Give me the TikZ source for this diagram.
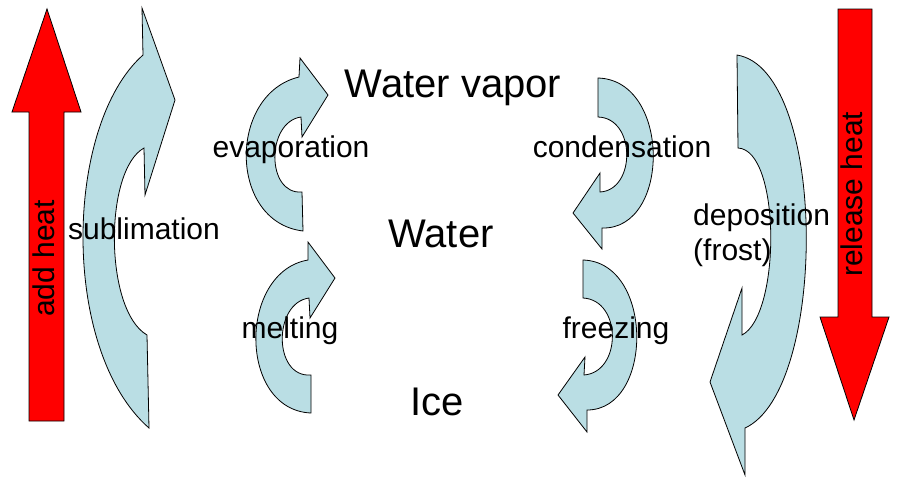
\documentclass[tikz,border=0pt]{standalone}
\usepackage{fontspec}
\setmainfont{Liberation Sans}
\definecolor{phaseblue}{RGB}{186,222,228}
\begin{document}
\begin{tikzpicture}[x=1pt,y=-1pt,
    phasearrow/.style={draw=black,line width=0.8pt,fill=phaseblue},
    heatarrow/.style={draw=black,line width=0.8pt,fill=red},
    lbl/.style={inner sep=0pt,font=\fontsize{30}{36}\selectfont},
    state/.style={inner sep=0pt,font=\fontsize{40}{48}\selectfont}]
    \useasboundingbox (0,0) rectangle (904,483);

    % heat arrows
    \draw[heatarrow] (29,421) -- (29,112) -- (12,112) -- (47,9) -- (81,112) -- (64,112) -- (64,421) -- cycle;
    \draw[heatarrow] (838,9) -- (872,9) -- (872,317) -- (889,317) -- (854,420) -- (820,317) -- (838,317) -- cycle;

    % sublimation
    \draw[phasearrow] (149,428) .. controls (60,350) and (64,125) .. (143,55) -- (142,8) -- (175,100) -- (145,195) -- (144,148)
      .. controls (104,170) and (104,310) .. (147,335) -- cycle;
    % evaporation
    \draw[phasearrow] (303,231) .. controls (228,222) and (228,94) .. (299,77) -- (300,58) -- (328,95) -- (302,137) -- (301,117)
      .. controls (266,122) and (266,195) .. (302,192) -- cycle;
    % melting
    \draw[phasearrow] (311,413) .. controls (238,410) and (238,272) .. (308,260) -- (308,242) -- (335,278) -- (310,318) -- (309,298)
      .. controls (273,303) and (273,378) .. (311,375) -- cycle;
    % condensation
    \draw[phasearrow] (598,78) .. controls (671,80) and (671,230) .. (602,228) -- (602,249) -- (573,213) -- (600,173) -- (600,192)
      .. controls (636,190) and (636,118) .. (598,117) -- cycle;
    % freezing
    \draw[phasearrow] (583,260) .. controls (654,262) and (654,410) .. (587,410) -- (587,432) -- (558,395) -- (585,357) -- (584,375)
      .. controls (622,372) and (622,300) .. (583,298) -- cycle;
    % deposition
    \draw[phasearrow] (737,55) .. controls (828,70) and (828,390) .. (745,428) -- (745,475) -- (710,382) -- (742,288) -- (742,335)
      .. controls (781,315) and (781,150) .. (738,148) -- cycle;

    % states
    \node[state,anchor=base] (vapor) at (453,97) {Water vapor};
    \node[state,anchor=base] (water) at (441,247) {Water};
    \node[state,anchor=base] (ice) at (437,415) {Ice};

    % processes
    \node[lbl,anchor=base] (evap) at (291,157) {evaporation};
    \node[lbl,anchor=base] (cond) at (622,157) {condensation};
    \node[lbl,anchor=base] (subl) at (144,239) {sublimation};
    \node[lbl,anchor=base] (melt) at (290,338) {melting};
    \node[lbl,anchor=base] (freeze) at (616,338) {freezing};
    \node[lbl,anchor=base west] (depo) at (693,225) {deposition};
    \node[lbl,anchor=base west] (frost) at ([yshift=-35pt]depo.base west) {(frost)};

    \node[lbl,rotate=90,anchor=base west] (addheat) at (54,317) {add heat};
    \node[lbl,rotate=90,anchor=base west] (relheat) at (862,277) {release heat};
\end{tikzpicture}
\end{document}
